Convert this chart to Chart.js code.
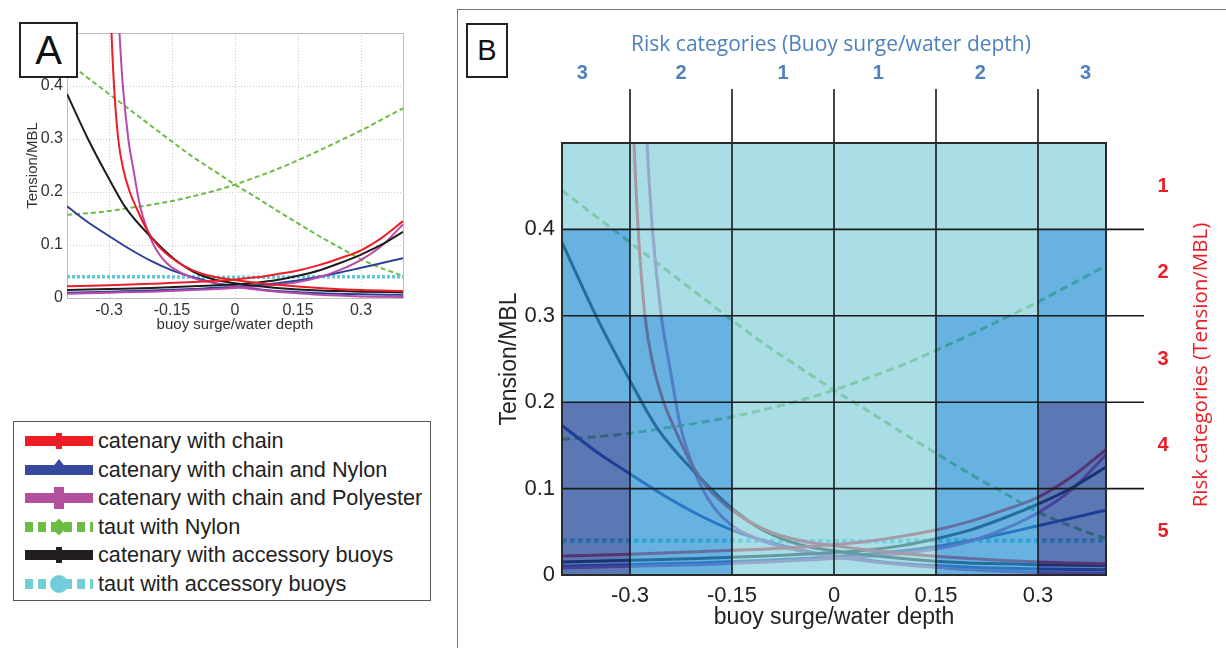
<!DOCTYPE html>
<html>
<head>
<meta charset="utf-8">
<script src="https://cdn.jsdelivr.net/npm/chart.js@4.4.1/dist/chart.umd.min.js"></script>
<style>
  html, body { margin: 0; padding: 0; background: #fff; }
  body { width: 1226px; height: 648px; position: relative; overflow: hidden; font-family: Arial, "Liberation Sans", sans-serif; }
  #wrapA { position: absolute; left: 0; top: 0; }
  #wrapB { position: absolute; left: 460px; top: 10px; }
  #frameB { position: absolute; left: 457px; top: 9px; width: 800px; height: 700px; border-left: 1px solid #777; border-top: 1px solid #777; }
  .tag { position: absolute; background: #fff; border: 2px solid #222; color: #111; text-align: center; box-sizing: border-box; }
  #tagA { left: 19px; top: 22px; width: 59px; height: 56px; font-size: 40px; line-height: 52px; }
  #tagB { left: 466px; top: 23px; width: 42px; height: 55px; font-size: 29px; line-height: 51px; }
  #legend { position: absolute; left: 13px; top: 421px; width: 418px; height: 180px; border: 1px solid #555; box-sizing: border-box; }
  .leg-row { position: absolute; left: 0; width: 100%; height: 0; }
  .swatch { position: absolute; left: 11px; top: -5px; width: 68px; height: 10px; }
  .mk { position: absolute; }
  .leg-text { position: absolute; left: 84px; top: -13px; font-size: 21.7px; line-height: 26px; color: #222; white-space: nowrap; }
</style>
</head>
<body>
<div id="frameB"></div>
<div id="wrapA"><canvas id="chartA" width="430" height="340"></canvas></div>
<div id="wrapB"><canvas id="chartB" width="766" height="638"></canvas></div>
<div class="tag" id="tagA">A</div>
<div class="tag" id="tagB">B</div>
<div id="legend"></div>

<script>
// axis ticks
const xTickValues = [-0.3, -0.15, 0, 0.15, 0.3];
const yGridValues = [0.1, 0.2, 0.3, 0.4];

// catenary with chain (red)
const chainDownX = [-0.298, -0.294, -0.288, -0.278, -0.266, -0.25, -0.233, -0.21, -0.187, -0.15, -0.1, -0.05, 0, 0.05, 0.1, 0.2, 0.3, 0.4];
const chainDownY = [0.6, 0.5, 0.4, 0.3, 0.243, 0.199, 0.167, 0.129, 0.102, 0.075, 0.052, 0.040, 0.034, 0.029, 0.025, 0.019, 0.015, 0.013];
const chainUpX = [-0.4, -0.3, -0.2, -0.1, 0, 0.05, 0.1, 0.15, 0.2, 0.25, 0.3, 0.35, 0.4];
const chainUpY = [0.022, 0.024, 0.027, 0.030, 0.035, 0.039, 0.045, 0.052, 0.062, 0.075, 0.090, 0.114, 0.145];

// catenary with chain and Nylon (blue)
const nylonDownX = [-0.4, -0.35, -0.3, -0.25, -0.2, -0.15, -0.1, -0.05, 0, 0.05, 0.1, 0.15, 0.2, 0.3, 0.4];
const nylonDownY = [0.173, 0.143, 0.117, 0.092, 0.070, 0.052, 0.039, 0.029, 0.022, 0.017, 0.013, 0.011, 0.009, 0.007, 0.006];
const nylonUpX = [-0.4, -0.3, -0.2, -0.1, 0, 0.1, 0.15, 0.2, 0.25, 0.3, 0.35, 0.4];
const nylonUpY = [0.010, 0.012, 0.014, 0.017, 0.021, 0.028, 0.033, 0.040, 0.048, 0.057, 0.066, 0.075];

// catenary with chain and Polyester (magenta)
const polyDownX = [-0.281, -0.275, -0.267, -0.254, -0.242, -0.226, -0.209, -0.193, -0.163, -0.107, -0.05, 0, 0.05, 0.1, 0.15, 0.2, 0.3, 0.4];
const polyDownY = [0.6, 0.5, 0.4, 0.3, 0.243, 0.173, 0.129, 0.099, 0.066, 0.040, 0.028, 0.021, 0.016, 0.012, 0.009, 0.006, 0.003, 0.002];
const polyUpX = [-0.4, -0.3, -0.2, -0.1, 0, 0.1, 0.15, 0.2, 0.25, 0.3, 0.35, 0.4];
const polyUpY = [0.008, 0.010, 0.012, 0.015, 0.019, 0.025, 0.030, 0.039, 0.053, 0.072, 0.099, 0.139];

// taut with Nylon (green, dashed)
const tautNylonX = [-0.4, -0.35, -0.3, -0.25, -0.2, -0.15, -0.1, -0.05, 0, 0.05, 0.1, 0.15, 0.2, 0.25, 0.3, 0.35, 0.4];
const tautNylonDownY = [0.445, 0.415, 0.385, 0.355, 0.325, 0.295, 0.266, 0.240, 0.214, 0.190, 0.165, 0.141, 0.117, 0.095, 0.073, 0.056, 0.042];
const tautNylonUpY = [0.157, 0.160, 0.164, 0.170, 0.176, 0.183, 0.192, 0.202, 0.214, 0.228, 0.243, 0.260, 0.278, 0.297, 0.316, 0.337, 0.358];

// catenary with accessory buoys (black)
const buoysDownX = [-0.4, -0.35, -0.3, -0.26, -0.2, -0.15, -0.1, -0.05, 0, 0.05, 0.1, 0.15, 0.2, 0.25, 0.3, 0.4];
const buoysDownY = [0.385, 0.300, 0.225, 0.170, 0.115, 0.077, 0.050, 0.035, 0.028, 0.023, 0.019, 0.016, 0.014, 0.013, 0.012, 0.011];
const buoysUpX = [-0.4, -0.3, -0.2, -0.1, 0, 0.05, 0.1, 0.15, 0.2, 0.25, 0.3, 0.35, 0.4];
const buoysUpY = [0.015, 0.017, 0.019, 0.022, 0.026, 0.029, 0.034, 0.042, 0.052, 0.066, 0.082, 0.101, 0.125];

// taut with accessory buoys (cyan, dotted)
const tautBuoysX = [-0.4, -0.2, 0, 0.2, 0.4];
const tautBuoysY = [0.040, 0.040, 0.039, 0.040, 0.040];

// risk categories for panel B
const riskXEdges = [-0.4, -0.3, -0.15, 0, 0.15, 0.3, 0.4];
const riskYEdges = [0, 0.1, 0.2, 0.3, 0.4, 0.5];
const riskCells = [      // bottom row first
  [3, 2, 1, 1, 2, 3],
  [3, 2, 1, 1, 2, 3],
  [2, 2, 1, 1, 2, 2],
  [2, 1, 1, 1, 1, 2],
  [1, 1, 1, 1, 1, 1]
];
const surgeCategoryLabels = ['3', '2', '1', '1', '2', '3'];
const surgeCategoryAt = [-0.37, -0.225, -0.075, 0.065, 0.215, 0.37];
const tensionCategoryLabels = ['5', '4', '3', '2', '1'];   // bottom to top

const COLORS = {
  red: '#ee1d25', blue: '#2c3f98', magenta: '#b84ba8',
  green: '#6bbd45', black: '#1d1d1d', cyan: '#62c9dc'
};
const CELL_OVERLAY = { 1: 'rgba(134,208,219,0.7)', 2: 'rgba(38,145,211,0.7)', 3: 'rgba(21,62,148,0.7)' };

// first dataset is drawn on top
const seriesList = [
  { xs: chainDownX, ys: chainDownY, color: COLORS.red },
  { xs: chainUpX, ys: chainUpY, color: COLORS.red },
  { xs: buoysDownX, ys: buoysDownY, color: COLORS.black },
  { xs: buoysUpX, ys: buoysUpY, color: COLORS.black },
  { xs: polyDownX, ys: polyDownY, color: COLORS.magenta },
  { xs: polyUpX, ys: polyUpY, color: COLORS.magenta },
  { xs: nylonDownX, ys: nylonDownY, color: COLORS.blue },
  { xs: nylonUpX, ys: nylonUpY, color: COLORS.blue },
  { xs: tautBuoysX, ys: tautBuoysY, color: COLORS.cyan, style: 'dot' },
  { xs: tautNylonX, ys: tautNylonDownY, color: COLORS.green, style: 'dash' },
  { xs: tautNylonX, ys: tautNylonUpY, color: COLORS.green, style: 'dash' }
];

const legendEntries = [
  { text: 'catenary with chain', color: COLORS.red, marker: 'bar' },
  { text: 'catenary with chain and Nylon', color: '#35499f', marker: 'tri' },
  { text: 'catenary with chain and Polyester', color: '#b2509f', marker: 'plus' },
  { text: 'taut with Nylon', color: '#6cbd45', marker: 'diamond', dashed: true },
  { text: 'catenary with accessory buoys', color: '#231f20', marker: 'bar' },
  { text: 'taut with accessory buoys', color: '#72cdd8', marker: 'circle', dashed: true }
];

function toPoints(xs, ys) {
  return xs.map((x, i) => ({ x: x, y: ys[i] }));
}

function buildDatasets(width, dashLen) {
  return seriesList.map(s => ({
    data: toPoints(s.xs, s.ys),
    borderColor: s.color,
    borderWidth: s.style === 'dot' ? width + 1.5 : width,
    borderDash: s.style === 'dash' ? [dashLen, dashLen * 0.6] : (s.style === 'dot' ? [dashLen * 0.6, dashLen * 0.4] : []),
    showLine: true,
    pointRadius: 0,
    cubicInterpolationMode: 'monotone',
    fill: false
  }));
}

function fixedTicks(scale) {
  scale.ticks = xTickValues.map(v => ({ value: v }));
}

function tickText(v) {
  return String(Math.round(v * 100) / 100);
}

// dotted grid + gray frame for panel A
const gridA = {
  id: 'gridA',
  beforeDatasetsDraw(chart) {
    const { ctx, chartArea: a, scales: { x, y } } = chart;
    ctx.save();
    ctx.strokeStyle = '#c9c9c9';
    ctx.lineWidth = 1;
    ctx.setLineDash([1, 2]);
    ctx.beginPath();
    xTickValues.forEach(v => {
      const px = Math.round(x.getPixelForValue(v)) + 0.5;
      ctx.moveTo(px, a.top); ctx.lineTo(px, a.bottom);
    });
    yGridValues.forEach(v => {
      const py = Math.round(y.getPixelForValue(v)) + 0.5;
      ctx.moveTo(a.left, py); ctx.lineTo(a.right, py);
    });
    ctx.stroke();
    ctx.setLineDash([]);
    ctx.strokeStyle = '#bdbdbd';
    ctx.strokeRect(a.left + 0.5, a.top + 0.5, a.right - a.left, a.bottom - a.top);
    ctx.restore();
  }
};

// risk cells drawn over the curves, black grid lines and category labels
const riskB = {
  id: 'riskB',
  afterDatasetsDraw(chart) {
    const { ctx, chartArea: a, scales: { x, y } } = chart;
    ctx.save();
    for (let r = 0; r < riskYEdges.length - 1; r++) {
      for (let c = 0; c < riskXEdges.length - 1; c++) {
        const x0 = x.getPixelForValue(riskXEdges[c]);
        const x1 = x.getPixelForValue(riskXEdges[c + 1]);
        const y0 = y.getPixelForValue(riskYEdges[r + 1]);
        const y1 = y.getPixelForValue(riskYEdges[r]);
        ctx.fillStyle = CELL_OVERLAY[riskCells[r][c]];
        ctx.fillRect(x0, y0, x1 - x0, y1 - y0);
      }
    }
    ctx.strokeStyle = '#1a1a1a';
    ctx.lineWidth = 1.6;
    ctx.beginPath();
    xTickValues.forEach(v => {
      const px = x.getPixelForValue(v);
      ctx.moveTo(px, a.top - 54); ctx.lineTo(px, a.bottom);
    });
    yGridValues.forEach(v => {
      const py = y.getPixelForValue(v);
      ctx.moveTo(a.left, py); ctx.lineTo(a.right + 38, py);
    });
    ctx.stroke();
    ctx.lineWidth = 2;
    ctx.strokeStyle = '#2a2a2a';
    ctx.strokeRect(a.left, a.top, a.right - a.left, a.bottom - a.top);

    // surge categories (top)
    ctx.fillStyle = '#4f81bd';
    ctx.textAlign = 'center';
    ctx.textBaseline = 'middle';
    ctx.font = '21px "Open Sans", sans-serif';
    ctx.fillText('Risk categories (Buoy surge/water depth)', (a.left + a.right) / 2 - 3, a.top - 98);
    ctx.font = 'bold 20px Arial, "Liberation Sans", sans-serif';
    surgeCategoryLabels.forEach((t, i) => {
      ctx.fillText(t, x.getPixelForValue(surgeCategoryAt[i]), a.top - 70);
    });

    // tension categories (right)
    ctx.fillStyle = '#ed1c24';
    tensionCategoryLabels.forEach((t, i) => {
      const yc = y.getPixelForValue((riskYEdges[i] + riskYEdges[i + 1]) / 2);
      ctx.fillText(t, a.right + 57, yc);
    });
    ctx.font = '20.5px "Open Sans", sans-serif';
    ctx.translate(a.right + 95, a.top + 222);
    ctx.rotate(-Math.PI / 2);
    ctx.fillText('Risk categories (Tension/MBL)', 0, 0);
    ctx.restore();
  }
};

function buildOptions(cfg) {
  return {
    responsive: false,
    animation: false,
    layout: { padding: cfg.padding },
    plugins: { legend: { display: false }, tooltip: { enabled: false } },
    scales: {
      x: {
        type: 'linear', min: -0.4, max: 0.4,
        afterBuildTicks: fixedTicks,
        afterFit: s => { s.height = cfg.xHeight; },
        grid: { display: false, drawTicks: false },
        border: { display: false },
        ticks: { autoSkip: false, maxRotation: 0, padding: cfg.xTickPad, color: cfg.textColor,
                 font: { size: cfg.tickSize, family: 'Arial' }, callback: v => tickText(v) },
        title: { display: true, text: 'buoy surge/water depth', color: cfg.textColor,
                 font: { size: cfg.titleSize, family: 'Arial' }, padding: { top: 0, bottom: cfg.xTitlePad } }
      },
      y: {
        type: 'linear', min: 0, max: 0.5,
        afterFit: s => { s.width = cfg.yWidth; },
        grid: { display: false, drawTicks: false },
        border: { display: false },
        ticks: { stepSize: 0.1, padding: cfg.yTickPad, color: cfg.textColor,
                 font: { size: cfg.tickSize, family: 'Arial' },
                 callback: v => (cfg.hideTop && v > 0.45) ? '' : tickText(v) },
        title: { display: true, text: 'Tension/MBL', color: cfg.textColor,
                 font: { size: cfg.titleSize, family: 'Arial' }, padding: { top: cfg.yTitlePad, bottom: 0 } }
      }
    }
  };
}

new Chart(document.getElementById('chartA'), {
  type: 'scatter',
  data: { datasets: buildDatasets(2, 5) },
  options: buildOptions({
    padding: { top: 33, right: 27, left: 0, bottom: 0 },
    xHeight: 42, yWidth: 67, xTickPad: 3, yTickPad: 4,
    tickSize: 16, titleSize: 15, xTitlePad: 6, yTitlePad: 24,
    textColor: '#333', hideTop: false
  }),
  plugins: [gridA]
});

new Chart(document.getElementById('chartB'), {
  type: 'scatter',
  data: { datasets: buildDatasets(3, 8) },
  options: buildOptions({
    padding: { top: 133, right: 120, left: 0, bottom: 0 },
    xHeight: 73, yWidth: 102, xTickPad: 8, yTickPad: 7,
    tickSize: 22, titleSize: 23, xTitlePad: 17, yTitlePad: 36,
    textColor: '#222', hideTop: true
  }),
  plugins: [riskB]
});

// legend for panel A
const legendBox = document.getElementById('legend');
legendEntries.forEach((e, i) => {
  const row = document.createElement('div');
  row.className = 'leg-row';
  row.style.top = (19 + i * 28.6) + 'px';

  const sw = document.createElement('div');
  sw.className = 'swatch';
  sw.style.background = e.dashed
    ? `repeating-linear-gradient(90deg, ${e.color} 0 8px, transparent 8px 13px)`
    : e.color;
  row.appendChild(sw);

  const mk = document.createElement('div');
  mk.className = 'mk';
  const cx = 45;
  if (e.marker === 'bar') {
    Object.assign(mk.style, { left: (cx - 3) + 'px', top: '-8px', width: '6px', height: '16px', background: e.color });
  } else if (e.marker === 'tri') {
    Object.assign(mk.style, { left: (cx - 7) + 'px', top: '-11px', width: '0', height: '0',
      borderLeft: '7px solid transparent', borderRight: '7px solid transparent', borderBottom: '9px solid ' + e.color });
  } else if (e.marker === 'plus') {
    Object.assign(mk.style, { left: (cx - 5) + 'px', top: '-11px', width: '10px', height: '22px', background: e.color });
  } else if (e.marker === 'diamond') {
    Object.assign(mk.style, { left: (cx - 6) + 'px', top: '-6px', width: '12px', height: '12px', background: e.color, transform: 'rotate(45deg)' });
  } else if (e.marker === 'circle') {
    Object.assign(mk.style, { left: (cx - 9) + 'px', top: '-9px', width: '18px', height: '18px', background: e.color, borderRadius: '50%' });
  }
  row.appendChild(mk);

  const tx = document.createElement('div');
  tx.className = 'leg-text';
  tx.textContent = e.text;
  row.appendChild(tx);

  legendBox.appendChild(row);
});
</script>
</body>
</html>
